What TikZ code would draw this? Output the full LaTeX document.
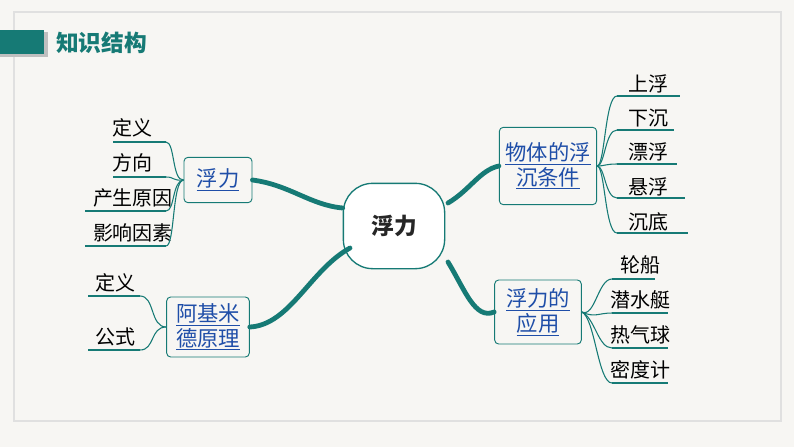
\documentclass[tikz,border=0pt]{standalone}
\usepackage{fontspec}
\setmainfont{Noto Sans CJK SC}
\usetikzlibrary{shadows}
\definecolor{teal1}{HTML}{167A75}
\definecolor{bg}{HTML}{F7F6F3}
\definecolor{lnk}{HTML}{1F4EA8}
\tikzset{
 box/.style={draw=teal1,fill=bg,rounded corners=3pt,line width=0.7pt,align=center,font=\fontsize{16}{18.5}\selectfont,text=lnk,inner sep=2pt},
 leaf/.style={font=\fontsize{15}{16}\selectfont,inner sep=0pt},
 thin/.style={draw=teal1,line width=0.8pt},
 thick/.style={draw=teal1,line width=3.6pt,line cap=round},
 ul/.style={draw=teal1,line width=0.8pt}
}
\newcommand{\ulx}[1]{\underline{#1}}
\begin{document}
\begin{tikzpicture}[x=0.75pt,y=-0.75pt]
\fill[bg] (0,0) rectangle (794,447);
\useasboundingbox (0,0) rectangle (794,447);
\draw[black!12,line width=0.8pt] (14,12) rectangle (781,421);
\fill[black!25] (0,32) rectangle (48,57);
\fill[teal1] (0,30) rectangle (44,54);
\node[font=\bfseries\fontsize{17}{19}\selectfont,text=teal1,anchor=west,inner sep=0pt] (title) at (56,43) {知识结构};
% center
\node[draw=teal1,fill=white,line width=1pt,rounded corners=22pt,minimum width=76pt,minimum height=64pt,font=\bfseries\fontsize{17}{19}\selectfont,text=black!85] (c) at (394,226) {浮力};
% boxes
\node[box,minimum width=51pt,minimum height=34pt] (f) at (218,180) {\ulx{浮力}};
\node[box,minimum width=62pt,minimum height=45pt] (a) at (208,327) {\ulx{阿基米}\\\ulx{德原理}};
\node[box,minimum width=73pt,minimum height=58pt] (w) at (548,166) {\ulx{物体的浮}\\\ulx{沉条件}};
\node[box,minimum width=65pt,minimum height=48pt] (y) at (538,312) {\ulx{浮力的}\\\ulx{应用}};
% thick connectors
\draw[thick] (f.east) .. controls (290,185) and (310,205) .. (c.west|-0,208);
\draw[thick] (a.east) .. controls (290,325) and (310,270) .. (350,248);
\draw[thick] (w.west) .. controls (480,170) and (470,190) .. (448,203);
\draw[thick] (y.west) .. controls (475,320) and (465,290) .. (448,262);
% left leaves of f
\foreach \t/\ty/\uy/\xl/\n in {定义/128/142/113/f1, 方向/163/177/113/f2, 产生原因/198/211/85/f3, 影响因素/233/246/85/f4}{
  \node[leaf] (\n) at (133,\ty) {\t};
  \coordinate (\n e) at (166,\uy);
  \draw[ul] (\xl,\uy) -- (\n e);
  \draw[thin] (\n e) .. controls (175,\uy) and (172,181) .. (f.west);
}
\node[leaf] (a1) at (115,283) {定义};
\node[leaf] (a2) at (115,337) {公式};
\coordinate (a1e) at (140,296); \coordinate (a2e) at (140,350);
\draw[ul] (88,296) -- (a1e); \draw[ul] (88,350) -- (a2e);
\draw[thin] (a1e) .. controls (155,296) and (150,327) .. (a.west);
\draw[thin] (a2e) .. controls (155,350) and (150,327) .. (a.west);
% right leaves of w
\foreach \t/\ty/\uy/\xr/\n in {上浮/84/96/680/w1, 下沉/118/130/674/w2, 漂浮/152/164/677/w3, 悬浮/187/198/685/w4, 沉底/222/233/688/w5}{
  \node[leaf] (\n) at (648,\ty) {\t};
  \coordinate (\n s) at (617,\uy);
  \draw[ul] (\n s) -- (\xr,\uy);
  \draw[thin] (w.east) .. controls (605,166) and (605,\uy) .. (\n s);
}
\foreach \t/\ty/\uy/\xr/\n in {轮船/265/279/655/y1, 潜水艇/300/313/668/y2, 热气球/335/348/668/y3, 密度计/370/383/668/y4}{
  \node[leaf] (\n) at (640,\ty) {\t};
  \coordinate (\n s) at (612,\uy);
  \draw[ul] (\n s) -- (\xr,\uy);
  \draw[thin] (y.east) .. controls (595,318) and (598,\uy) .. (\n s);
}
\end{tikzpicture}
\end{document}
